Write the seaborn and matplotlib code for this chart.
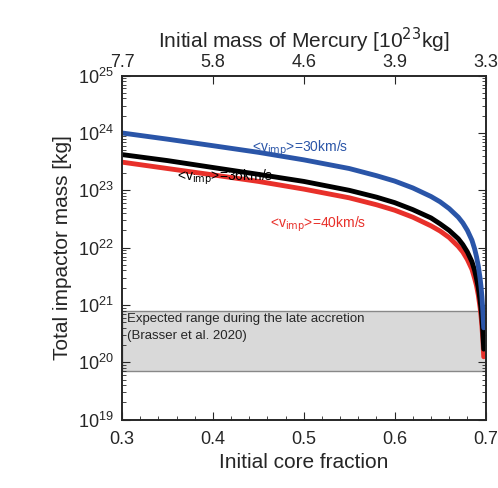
import numpy as np
import seaborn as sns
import matplotlib.pyplot as plt
from matplotlib.ticker import LogLocator, NullFormatter

sns.set_style("ticks")
plt.rcParams['font.family'] = ['Liberation Sans', 'DejaVu Sans']

# core fraction samples and impactor masses
core = [0.30, 0.35, 0.40, 0.45, 0.50, 0.55, 0.58, 0.60, 0.62, 0.64, 0.65, 0.66, 0.67, 0.675,
        0.68, 0.685, 0.688, 0.69, 0.692, 0.694, 0.695, 0.696, 0.697, 0.698]
m30 = [1.0e24, 7.8e23, 6.0e23, 4.6e23, 3.4e23, 2.4e23, 1.8e23, 1.45e23, 1.1e23, 7.8e22, 6.3e22, 4.8e22,
       3.4e22, 2.7e22, 2.0e22, 1.35e22, 9.5e21, 7.0e21, 4.8e21, 2.9e21, 2.1e21, 1.4e21, 8.0e20, 4.0e20]
m36 = [4.2e23, 3.3e23, 2.5e23, 1.9e23, 1.43e23, 1.0e23, 7.6e22, 6.1e22, 4.6e22, 3.3e22, 2.6e22, 2.0e22,
       1.43e22, 1.13e22, 8.4e21, 5.7e21, 4.0e21, 2.9e21, 2.0e21, 1.2e21, 8.8e20, 5.9e20, 3.4e20, 1.7e20]
m40 = [3.1e23, 2.4e23, 1.86e23, 1.43e23, 1.05e23, 7.4e22, 5.6e22, 4.5e22, 3.4e22, 2.4e22, 1.95e22, 1.5e22,
       1.05e22, 8.4e21, 6.2e21, 4.2e21, 2.9e21, 2.2e21, 1.5e21, 9.0e20, 6.5e20, 4.3e20, 2.5e20, 1.25e20]
top_ticks = [0.3, 0.4, 0.5, 0.6, 0.7]
top_labels = ['7.7', '5.8', '4.6', '3.9', '3.3']
band = (7e19, 8e20)

fig, ax = plt.subplots(figsize=(4.98, 4.88), dpi=100)
ax.axhspan(*band, color='#d9d9d9', ec='#888888', lw=1, zorder=0)
sns.lineplot(x=core, y=m40, ax=ax, color='#e8302a', lw=3.5)
sns.lineplot(x=core, y=m36, ax=ax, color='black', lw=3.5)
sns.lineplot(x=core, y=m30, ax=ax, color='#2a55a8', lw=3.5)
ax.set_yscale('log')
ax.set_xlim(0.3, 0.7)
ax.set_ylim(1e19, 1e25)
ax.set_yticks([10.0**k for k in range(19, 26)])
ax.yaxis.set_minor_locator(LogLocator(base=10, subs=np.arange(2, 10), numticks=20))
ax.yaxis.set_minor_formatter(NullFormatter())
ax.set_xticks(top_ticks)
ax.set_xticks(np.arange(0.3, 0.701, 0.02), minor=True)
ax.tick_params(which='both', direction='in', top=False, right=True, labelsize=13)
ax.tick_params(which='major', length=6)
ax.tick_params(which='minor', length=3)
ax.tick_params(axis='x', pad=8)
ax.tick_params(axis='y', pad=6)
ax.set_xlabel('Initial core fraction', fontsize=15)
ax.set_ylabel('Total impactor mass [kg]', fontsize=15)

ax2 = ax.twiny()
ax2.set_xlim(0.3, 0.7)
ax2.set_xticks(top_ticks)
ax2.set_xticklabels(top_labels)
ax2.tick_params(direction='in', length=6, labelsize=13)
ax2.set_xlabel('Initial mass of Mercury [10$^{23}$kg]', fontsize=15)

ax.text(0.496, 5.4e23, '<v$_{\\rm imp}$>=30km/s', color='#2a55a8', fontsize=10, ha='center', va='center')
ax.text(0.414, 1.7e23, '<v$_{\\rm imp}$>=36km/s', color='black', fontsize=10, ha='center', va='center')
ax.text(0.516, 2.5e22, '<v$_{\\rm imp}$>=40km/s', color='#e8302a', fontsize=10, ha='center', va='center')
ax.text(0.305, 5.6e20, 'Expected range during the late accretion', fontsize=9.5, va='center')
ax.text(0.305, 2.9e20, '(Brasser et al. 2020)', fontsize=9.5, va='center')
for a in (ax, ax2):
    for s in a.spines.values():
        s.set_linewidth(1.2)

fig.subplots_adjust(left=0.245, right=0.975, bottom=0.14, top=0.845)
fig.savefig('out.png', dpi=100)
